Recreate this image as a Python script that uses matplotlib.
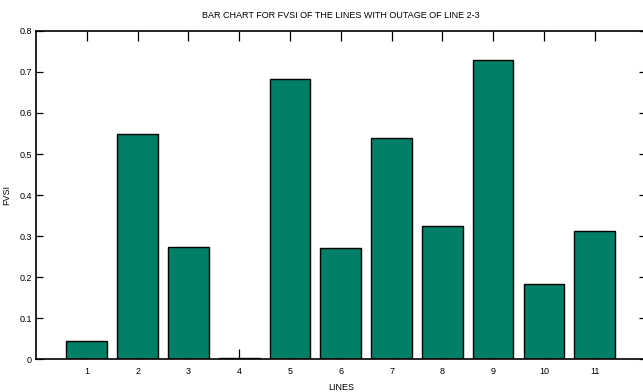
import numpy as np
import matplotlib
matplotlib.use('Agg')
import matplotlib.pyplot as plt

plt.rcParams['font.family'] = ['Liberation Sans Narrow', 'Liberation Sans', 'DejaVu Sans']

lines = np.arange(1, 12)
fvsi = [0.045, 0.549, 0.274, 0.002, 0.684, 0.272, 0.540, 0.324, 0.729, 0.182, 0.312]
yticks = [0, 0.1, 0.2, 0.3, 0.4, 0.5, 0.6, 0.7, 0.8]
ytick_labels = ['0', '0.1', '0.2', '0.3', '0.4', '0.5', '0.6', '0.7', '0.8']

fig = plt.figure(figsize=(6.43, 3.92), dpi=100)
ax = fig.add_axes([0.056, 0.084, 0.948, 0.837])
# bars sit over the inward bottom ticks
ax.set_axisbelow(True)

ax.bar(lines, fvsi, width=0.8, color='#007f66', edgecolor='black', linewidth=1.0)

ax.set_xlim(0, 12)
ax.set_ylim(0, 0.8)
ax.set_xticks(lines)
ax.set_xticklabels([str(i) for i in lines])
ax.set_yticks(yticks)
ax.set_yticklabels(ytick_labels)

ax.tick_params(direction='in', width=0.9, labelsize=6.5, top=True, right=True)
ax.tick_params(axis='x', length=7, pad=6)
ax.tick_params(axis='y', length=5, pad=3)
for s in ax.spines.values():
    s.set_linewidth(1.2)

ax.set_title('BAR CHART FOR FVSI OF THE LINES WITH OUTAGE OF LINE 2-3', fontsize=6.5, pad=9)
ax.set_xlabel('LINES', fontsize=6.5, labelpad=5)
ax.set_ylabel('FVSI', fontsize=6.5, labelpad=6)

fig.savefig('out.png', dpi=100)
